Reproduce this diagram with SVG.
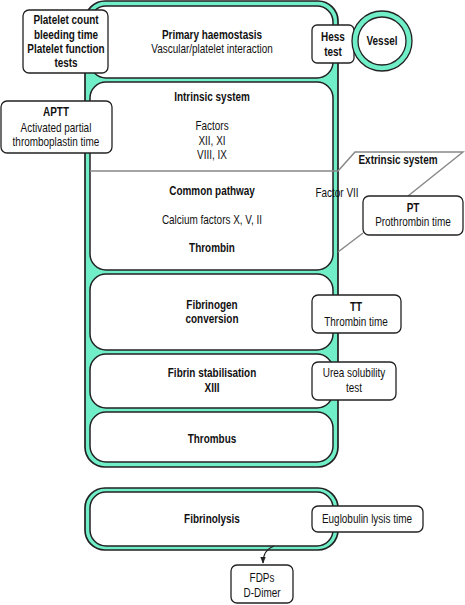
<svg xmlns="http://www.w3.org/2000/svg" width="465" height="605" viewBox="0 0 465 605">
<style>
text{font-family:"Liberation Sans Narrow","Arial Narrow","Liberation Sans",Arial,sans-serif;font-size:12.6px;fill:#111;text-anchor:middle;transform-box:fill-box;transform-origin:center;transform:scaleX(0.79)}
.b{font-weight:bold}
.outer{fill:#70eec8;stroke:#222;stroke-width:1.7}
.inner{fill:#fff;stroke:#222;stroke-width:1.5}
.box{fill:#fff;stroke:#222;stroke-width:1.3}
.gl{fill:none;stroke:#888;stroke-width:1.5}
</style>
<defs>
<marker id="ah" viewBox="0 0 10 10" refX="9" refY="5" markerWidth="6" markerHeight="6" orient="auto"><path d="M0,1 L10,5 L0,9 Z" fill="#222"/></marker>
</defs>
<g id="cascade">
<rect class="outer" x="85" y="1" width="253" height="466" rx="20"/>
</g>
<g id="primary"><rect class="inner" x="90" y="6" width="243" height="72" rx="16"/>
<text class="b" x="212" y="39">Primary haemostasis</text><text x="212" y="53">Vascular/platelet interaction</text></g>
<g id="intrinsic-common"><rect class="inner" x="90" y="82" width="243" height="188" rx="16"/>
<text class="b" x="212" y="101">Intrinsic system</text>
<text x="212" y="130">Factors</text><text x="212" y="145">XII, XI</text><text x="212" y="159">VIII, IX</text>
<text class="b" x="212" y="195">Common pathway</text>
<text x="212" y="224">Calcium factors X, V, II</text>
<text class="b" x="212" y="252">Thrombin</text></g>
<g id="fibrinogen"><rect class="inner" x="90" y="274" width="243" height="76" rx="16"/>
<text class="b" x="212" y="309">Fibrinogen</text><text class="b" x="212" y="323">conversion</text></g>
<g id="fibrin-stab"><rect class="inner" x="90" y="354" width="243" height="54" rx="16"/>
<text class="b" x="212" y="377">Fibrin stabilisation</text><text class="b" x="212" y="392">XIII</text></g>
<g id="thrombus"><rect class="inner" x="90" y="412" width="243" height="50" rx="16"/>
<text class="b" x="212" y="443">Thrombus</text></g>
<g id="fibrinolysis"><rect class="outer" x="85" y="488" width="253" height="62" rx="20"/>
<rect class="inner" x="90" y="492" width="243" height="54" rx="16"/>
<text class="b" x="212" y="523">Fibrinolysis</text></g>
<g id="connectors">
<path class="gl" d="M90,171 H338 L355,152 H463 L408,196"/>
<path class="gl" d="M363,233 L338,252"/>
<path d="M274,546 Q263,550 263,563" fill="none" stroke="#222" stroke-width="1.2" marker-end="url(#ah)"/>
</g>
<g id="extrinsic"><text class="b" x="398" y="164">Extrinsic system</text></g>
<g id="factor7"><text x="337" y="197">Factor VII</text></g>
<g id="platelet-tests"><rect class="box" x="23" y="10" width="85" height="63" rx="6"/>
<text class="b" x="66" y="24">Platelet count</text><text class="b" x="66" y="39">bleeding time</text><text class="b" x="66" y="53">Platelet function</text><text class="b" x="66" y="67">tests</text></g>
<g id="aptt"><rect class="box" x="1" y="101" width="111" height="52" rx="6"/>
<text class="b" x="56" y="116">APTT</text><text x="56" y="132">Activated partial</text><text x="56" y="146">thromboplastin time</text></g>
<g id="hess"><rect class="box" x="312" y="25" width="42" height="38" rx="5"/>
<text class="b" x="333" y="41">Hess</text><text class="b" x="333" y="56">test</text></g>
<g id="vessel"><circle cx="382" cy="41" r="30" fill="#70eec8" stroke="#222" stroke-width="1.3"/>
<circle cx="382" cy="41" r="24" fill="#fff" stroke="#222" stroke-width="1.3"/>
<text class="b" x="382" y="45">Vessel</text></g>
<g id="pt"><rect class="box" x="363" y="196" width="100" height="39" rx="6"/>
<text class="b" x="413" y="212">PT</text><text x="413" y="226">Prothrombin time</text></g>
<g id="tt"><rect class="box" x="312" y="295" width="89" height="38" rx="6"/>
<text class="b" x="356" y="311">TT</text><text x="356" y="326">Thrombin time</text></g>
<g id="urea"><rect class="box" x="312" y="362" width="84" height="38" rx="6"/>
<text x="354" y="377">Urea solubility</text><text x="354" y="392">test</text></g>
<g id="euglobulin"><rect class="box" x="312" y="506" width="111" height="26" rx="6"/>
<text x="367" y="523">Euglobulin lysis time</text></g>
<g id="fdp"><rect class="box" x="231" y="565" width="62" height="38" rx="6"/>
<text x="262" y="582">FDPs</text><text x="262" y="597">D-Dimer</text></g>
</svg>
